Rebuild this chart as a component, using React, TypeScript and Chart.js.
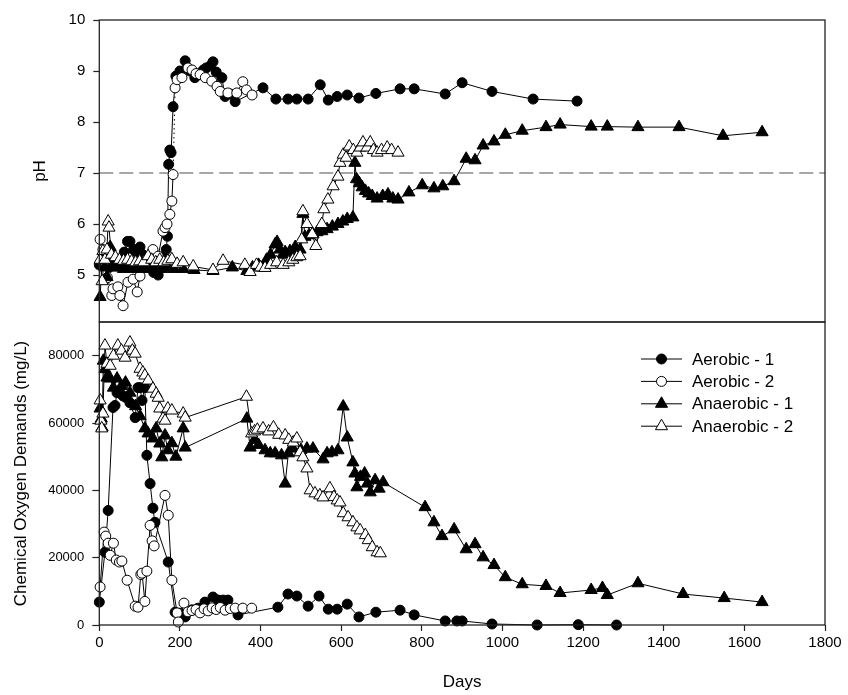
import React, { useEffect, useRef } from 'react';
import { Chart, registerables } from 'chart.js';
import { drawPoint } from 'chart.js/helpers';

Chart.register(...registerables);

const dayTicks = [0, 200, 400, 600, 800, 1000, 1200, 1400, 1600, 1800];
const phTicks = [5, 6, 7, 8, 9, 10];
const codTicks = [0, 20000, 40000, 60000, 80000];
const seriesNames = ['Aerobic - 1', 'Aerobic - 2', 'Anaerobic - 1', 'Anaerobic - 2'];
const phReference = 7;

// pH series
const phAer1Days = [0, 8, 15, 25, 35, 50, 62, 70, 76, 85, 92, 101, 108, 115, 125, 135, 146, 155, 162, 166, 169, 172, 175, 178, 183, 190, 200, 213, 225, 237, 250, 258, 265, 275, 282, 290, 304, 312, 325, 337, 406, 438, 468, 490, 518, 548, 568, 590, 615, 644, 686, 746, 781, 858, 900, 974, 1076, 1185];
const phAer1 = [5.2, 5.25, 5.35, 5.15, 5.2, 5.3, 5.45, 5.66, 5.66, 5.5, 5.45, 5.55, 5.4, 5.3, 5.25, 5.05, 5.0, 5.15, 5.35, 5.5, 5.76, 7.17, 7.45, 7.4, 8.3, 8.9, 9.0, 9.2, 9.0, 8.87, 8.95, 9.02, 9.06, 9.1, 9.18, 8.98, 8.87, 8.5, 8.55, 8.4, 8.67, 8.45, 8.45, 8.45, 8.45, 8.73, 8.43, 8.5, 8.53, 8.47, 8.56, 8.65, 8.65, 8.55, 8.77, 8.6, 8.45, 8.41];

const phAer2Days = [2, 9, 14, 20, 31, 34, 46, 51, 59, 71, 84, 94, 101, 113, 122, 133, 146, 158, 163, 168, 175, 180, 183, 188, 193, 205, 220, 230, 240, 250, 263, 279, 292, 300, 319, 341, 356, 365, 379];
const phAer2 = [5.7, 5.5, 5.25, 4.95, 4.6, 4.73, 4.77, 4.6, 4.4, 4.86, 4.92, 4.67, 4.98, 5.15, 5.2, 5.5, 5.37, 5.86, 5.93, 6.0, 6.19, 6.45, 6.97, 8.67, 8.83, 8.87, 9.06, 9.02, 8.95, 8.93, 8.87, 8.8, 8.7, 8.6, 8.57, 8.57, 8.79, 8.63, 8.53];

const phAn1Days = [2, 7, 14, 19, 27, 33, 40, 50, 60, 70, 80, 90, 100, 110, 125, 140, 155, 170, 185, 208, 235, 282, 330, 366, 380, 395, 405, 415, 425, 436, 441, 448, 455, 461, 473, 486, 498, 505, 510, 520, 530, 540, 552, 565, 578, 592, 604, 615, 629, 634, 638, 645, 652, 660, 668, 677, 689, 703, 716, 728, 741, 768, 801, 830, 852, 880, 910, 932, 952, 979, 1007, 1049, 1108, 1143, 1220, 1260, 1336, 1438, 1547, 1644];
const phAn1 = [4.57, 5.31, 5.15, 4.96, 5.55, 5.2, 5.15, 5.15, 5.12, 5.15, 5.12, 5.15, 5.12, 5.15, 5.12, 5.15, 5.12, 5.15, 5.12, 5.12, 5.1, 5.08, 5.15, 5.08, 5.15, 5.2, 5.15, 5.3, 5.4, 5.6, 5.65, 5.5, 5.4, 5.45, 5.47, 5.55, 5.5, 6.2, 5.75, 5.78, 5.8, 5.84, 5.86, 5.9, 5.95, 6.0, 6.05, 6.1, 6.13, 7.2, 6.88, 6.8, 6.72, 6.65, 6.6, 6.55, 6.5, 6.55, 6.58, 6.5, 6.48, 6.62, 6.76, 6.7, 6.74, 6.84, 7.28, 7.25, 7.54, 7.62, 7.75, 7.83, 7.9, 7.95, 7.91, 7.91, 7.9, 7.9, 7.73, 7.8];

const phAn2Days = [2, 7, 9, 14, 19, 22, 24, 30, 40, 50, 60, 70, 80, 90, 100, 110, 121, 130, 140, 150, 160, 170, 180, 193, 208, 233, 282, 307, 361, 374, 390, 400, 411, 425, 440, 456, 470, 480, 490, 498, 502, 505, 515, 528, 537, 552, 557, 567, 580, 592, 597, 605, 612, 620, 630, 639, 647, 654, 664, 672, 680, 689, 700, 714, 725, 741];
const phAn2 = [5.3, 4.88, 5.47, 5.3, 5.5, 6.05, 5.93, 5.4, 5.35, 5.3, 5.28, 5.3, 5.27, 5.25, 5.27, 5.25, 5.37, 5.3, 5.25, 5.3, 5.25, 5.28, 5.31, 5.22, 5.25, 5.17, 5.1, 5.28, 5.2, 5.06, 5.2, 5.15, 5.14, 5.2, 5.25, 5.2, 5.25, 5.3, 5.35, 5.37, 5.7, 6.25, 6.0, 5.8, 5.57, 6.0, 6.29, 6.48, 6.74, 6.93, 7.2, 7.36, 7.3, 7.52, 7.45, 7.4, 7.5, 7.6, 7.5, 7.6, 7.45, 7.4, 7.45, 7.5, 7.45, 7.4];

// COD series (mg/L)
const codAer1Days = [0, 14, 22, 34, 39, 44, 51, 59, 67, 76, 89, 96, 101, 106, 113, 118, 126, 133, 138, 171, 188, 200, 213, 230, 245, 262, 282, 295, 307, 319, 344, 443, 468, 490, 518, 545, 568, 590, 615, 644, 686, 746, 781, 858, 887, 900, 974, 1086, 1188, 1283];
const codAer1 = [6800, 21600, 34000, 64600, 65200, 69000, 69000, 68000, 67500, 66000, 61600, 70500, 70500, 66700, 70500, 50400, 42000, 34700, 30500, 18700, 3800, 3500, 2400, 4500, 5000, 6800, 8300, 7400, 7400, 7400, 3000, 5300, 9200, 8600, 5600, 8600, 4700, 4700, 6200, 2400, 3800, 4400, 3000, 1200, 1200, 1200, 300, 0, 100, 0];

const codAer2Days = [2, 12, 16, 22, 27, 35, 42, 50, 56, 69, 89, 96, 103, 106, 113, 118, 126, 131, 136, 163, 171, 180, 193, 196, 210, 220, 230, 240, 250, 260, 270, 280, 290, 300, 312, 325, 337, 356, 378];
const codAer2 = [11300, 27600, 26400, 24300, 20700, 24300, 19300, 18700, 19000, 13300, 5600, 5300, 15000, 15400, 7000, 16000, 29600, 25000, 23500, 38500, 32600, 13300, 3600, 900, 6500, 3900, 4300, 4600, 3600, 4800, 4200, 5100, 4600, 5200, 4400, 4900, 5000, 5000, 5000];

const codAn1Days = [2, 5, 7, 10, 14, 19, 27, 35, 44, 55, 65, 76, 90, 101, 113, 121, 133, 141, 150, 155, 163, 170, 180, 190, 208, 213, 366, 374, 385, 395, 411, 424, 436, 452, 461, 469, 480, 500, 515, 530, 555, 565, 577, 592, 605, 615, 629, 634, 639, 648, 658, 665, 672, 684, 694, 704, 808, 830, 850, 880, 910, 932, 952, 979, 1007, 1049, 1108, 1143, 1220, 1248, 1260, 1336, 1448, 1550, 1644];
const codAn1 = [64300, 61300, 58700, 78500, 76000, 73500, 73200, 70500, 73200, 71000, 72000, 69000, 65000, 62000, 58400, 56900, 55400, 58400, 53900, 49800, 56300, 51900, 54000, 50000, 58400, 52700, 61300, 52700, 55000, 53500, 51900, 51000, 51000, 50400, 42000, 51000, 52400, 52000, 52400, 52400, 49200, 51000, 51300, 51900, 64900, 55700, 48300, 45000, 40900, 44000, 45000, 42000, 39400, 43000, 40500, 42400, 35000, 30500, 26400, 28400, 22500, 24000, 20100, 17800, 14200, 12100, 11600, 9500, 10400, 11000, 8900, 12400, 9200, 8000, 6800];

const codAn2Days = [2, 4, 6, 9, 14, 19, 27, 35, 46, 55, 64, 76, 82, 89, 101, 108, 113, 121, 133, 141, 146, 150, 158, 163, 170, 180, 208, 213, 365, 378, 385, 392, 406, 420, 432, 445, 461, 470, 481, 490, 498, 505, 515, 523, 535, 547, 555, 572, 582, 590, 597, 605, 617, 629, 639, 647, 660, 667, 677, 689, 697];
const codAn2 = [66700, 60700, 58400, 62800, 83000, 77600, 77000, 80000, 83000, 81500, 79400, 83900, 81500, 80600, 76100, 75000, 74100, 72600, 70200, 68700, 67500, 64300, 61300, 60700, 64300, 63700, 62800, 61600, 67800, 56900, 57500, 58000, 58400, 57500, 58700, 56500, 56300, 55000, 54200, 55400, 51300, 49800, 46500, 40000, 39100, 38500, 37900, 40600, 38000, 37000, 36400, 33200, 32000, 30500, 29000, 28100, 26700, 25200, 23100, 21600, 21300];

const FONT = "'Liberation Sans', Arial, Helvetica, sans-serif";
const INK = '#000';
const FRAME = '#222';

const markerStyles = [
  { pointStyle: 'circle', fill: '#000', radius: 5 },
  { pointStyle: 'circle', fill: '#fff', radius: 5 },
  { pointStyle: 'triangle', fill: '#000', radius: 7 },
  { pointStyle: 'triangle', fill: '#fff', radius: 7 },
];

const toPts = (days: number[], vals: number[]) => days.map((x, i) => ({ x, y: vals[i] }));

function series(i: number, days: number[], vals: number[], extra: any = {}) {
  const s = markerStyles[i];
  return {
    label: seriesNames[i],
    data: toPts(days, vals),
    showLine: true,
    borderColor: INK,
    borderWidth: 1,
    pointStyle: s.pointStyle,
    pointRadius: s.radius,
    pointHoverRadius: s.radius,
    pointBackgroundColor: s.fill,
    pointBorderColor: INK,
    pointBorderWidth: 1,
    order: 4 - i,
    clip: false,
    ...extra,
  };
}

const framePlugin = {
  id: 'frame',
  afterDatasetsDraw(chart: any) {
    const { ctx, chartArea } = chart;
    const { left, top, right, bottom } = chartArea;
    ctx.save();
    ctx.strokeStyle = FRAME;
    ctx.lineWidth = 1.3;
    ctx.strokeRect(left, top, right - left, bottom - top);
    ctx.restore();
  },
};

const BOTTOM_CANVAS_TOP = 310;
const legendPlugin = {
  id: 'seriesLegend',
  afterDraw(chart: any) {
    const ctx = chart.ctx;
    const x0 = 641;
    const lineLen = 41;
    const textX = 692;
    const y0 = 359 - BOTTOM_CANVAS_TOP;
    const gap = 22.4;
    ctx.save();
    seriesNames.forEach((name, i) => {
      const y = y0 + i * gap;
      const s = markerStyles[i];
      ctx.strokeStyle = INK;
      ctx.lineWidth = 1;
      ctx.beginPath();
      ctx.moveTo(x0, y);
      ctx.lineTo(x0 + lineLen, y);
      ctx.stroke();
      ctx.fillStyle = s.fill;
      ctx.strokeStyle = INK;
      ctx.lineWidth = 1;
      drawPoint(ctx, { pointStyle: s.pointStyle, rotation: 0, borderWidth: 1, radius: s.radius }, x0 + lineLen / 2, y);
      ctx.fillStyle = INK;
      ctx.font = `17px ${FONT}`;
      ctx.textBaseline = 'middle';
      ctx.textAlign = 'left';
      ctx.fillText(name, textX, y + 1);
    });
    ctx.restore();
  },
};

const yAxisWidth = 99.3;
const rightPad = 23;

const noPad = (s: any) => {
  s.paddingTop = 0;
  s.paddingBottom = 0;
  s.paddingLeft = 0;
  s.paddingRight = 0;
};

export default function App() {
  const topRef = useRef<HTMLCanvasElement>(null);
  const botRef = useRef<HTMLCanvasElement>(null);

  useEffect(() => {
    Chart.defaults.font.family = FONT;
    Chart.defaults.color = INK;

    const refLine = {
      label: 'pH 7',
      data: [{ x: dayTicks[0], y: phReference }, { x: dayTicks[dayTicks.length - 1], y: phReference }],
      showLine: true,
      borderColor: '#8a8a8a',
      borderWidth: 1.6,
      borderDash: [14, 6],
      pointRadius: 0,
      order: 10,
    };

    const top = new Chart(topRef.current as HTMLCanvasElement, {
      type: 'scatter',
      data: {
        datasets: [
          refLine,
          series(0, phAer1Days, phAer1),
          series(1, phAer2Days, phAer2, {
            segment: {
              borderDash: (c: any) => (c.p0.parsed.y < phReference && c.p1.parsed.y > phReference + 1 ? [1.5, 3] : undefined),
            },
          }),
          series(2, phAn1Days, phAn1),
          series(3, phAn2Days, phAn2),
        ] as any,
      },
      options: {
        responsive: false,
        animation: false,
        events: [],
        layout: { padding: { left: 0, right: rightPad, top: 20, bottom: 8 } },
        plugins: { legend: { display: false }, tooltip: { enabled: false } },
        scales: {
          x: { type: 'linear', min: dayTicks[0], max: dayTicks[dayTicks.length - 1], display: false },
          y: {
            type: 'linear',
            min: 4.08,
            max: 10,
            afterBuildTicks: (s: any) => { s.ticks = phTicks.map((v) => ({ value: v })); },
            afterFit: (s: any) => { s.width = yAxisWidth; noPad(s); },
            ticks: { font: { size: 15 }, color: INK, padding: 8, callback: (v: any) => String(v) },
            grid: { drawOnChartArea: false, tickLength: 6, tickColor: FRAME, tickWidth: 1.2 },
            border: { display: false },
            title: { display: true, text: 'pH', font: { size: 17 }, color: INK, padding: { top: 30, bottom: 0 } },
          },
        },
      } as any,
      plugins: [framePlugin],
    });

    const bottom = new Chart(botRef.current as HTMLCanvasElement, {
      type: 'scatter',
      data: {
        datasets: [
          series(0, codAer1Days, codAer1),
          series(1, codAer2Days, codAer2),
          series(2, codAn1Days, codAn1),
          series(3, codAn2Days, codAn2),
        ] as any,
      },
      options: {
        responsive: false,
        animation: false,
        events: [],
        layout: { padding: { left: 0, right: rightPad, top: 12, bottom: 0 } },
        plugins: { legend: { display: false }, tooltip: { enabled: false } },
        scales: {
          x: {
            type: 'linear',
            min: dayTicks[0],
            max: dayTicks[dayTicks.length - 1],
            afterBuildTicks: (s: any) => { s.ticks = dayTicks.map((v) => ({ value: v })); },
            afterFit: (s: any) => { s.height = 70; noPad(s); },
            ticks: { font: { size: 15 }, color: INK, padding: 3, maxRotation: 0, autoSkip: false, callback: (v: any) => String(v) },
            grid: { drawOnChartArea: false, tickLength: 6, tickColor: FRAME, tickWidth: 1.2 },
            border: { display: false },
            title: { display: true, text: 'Days', font: { size: 17 }, color: INK, padding: { top: 0, bottom: 2 } },
          },
          y: {
            type: 'linear',
            min: 0,
            max: 90000,
            afterBuildTicks: (s: any) => { s.ticks = codTicks.map((v) => ({ value: v })); },
            afterFit: (s: any) => { s.width = yAxisWidth; noPad(s); },
            ticks: { font: { size: 13 }, color: INK, padding: 8, callback: (v: any) => String(v) },
            grid: { drawOnChartArea: false, tickLength: 7, tickColor: FRAME, tickWidth: 1.2 },
            border: { display: false },
            title: { display: true, text: 'Chemical Oxygen Demands (mg/L)', font: { size: 17 }, color: INK, padding: { top: 11, bottom: 0 } },
          },
        },
      } as any,
      plugins: [framePlugin, legendPlugin],
    });

    return () => {
      top.destroy();
      bottom.destroy();
    };
  }, []);

  return (
    <div style={{ position: 'absolute', left: 0, top: 0, width: 848, height: 695, background: '#fff', overflow: 'hidden' }}>
      <canvas ref={topRef} width={848} height={330} style={{ position: 'absolute', left: 0, top: 0, width: 848, height: 330 }} />
      <canvas ref={botRef} width={848} height={385} style={{ position: 'absolute', left: 0, top: BOTTOM_CANVAS_TOP, width: 848, height: 385 }} />
    </div>
  );
}
